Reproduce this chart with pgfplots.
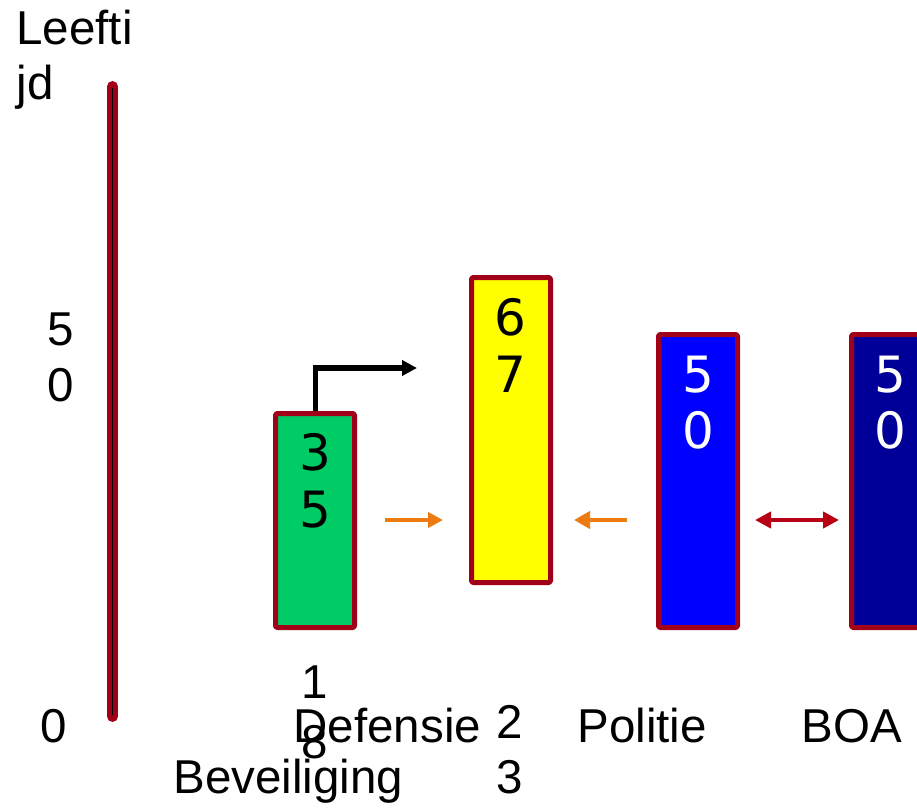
\documentclass[border=0pt]{standalone}
\usepackage{pgfplots}
\pgfplotsset{compat=1.18}
\usetikzlibrary{arrows.meta}
\usepackage{fontspec}
\setmainfont{Liberation Sans}
\newfontfamily\numfont{DejaVu Sans}
\definecolor{rim}{HTML}{A00018}
\definecolor{arrred}{HTML}{B80016}
\definecolor{arrorange}{HTML}{EC7C10}
\definecolor{bgreen}{HTML}{00CC66}
\definecolor{byellow}{HTML}{FFFF00}
\definecolor{bblue}{HTML}{0000FF}
\definecolor{bnavy}{HTML}{000099}
\newcommand\lab{\fontsize{47.5bp}{55bp}\selectfont}
\newcommand\num{\numfont\fontsize{50bp}{57bp}\selectfont}
\begin{document}
\begin{tikzpicture}
\begin{axis}[
    width=917bp, height=809bp, scale only axis,
    xmin=0, xmax=917, ymin=0, ymax=809,
    y dir=reverse,
    hide axis,
    clip=true,
    every node/.style={inner sep=0pt},
]
% frame for the bounding box
\addplot[draw=none] coordinates {(0,0) (917,809)};

% vertical age axis
\addplot[rim, line width=11bp, line cap=round] coordinates {(112.5,86.5) (112.5,716.5)};
\addplot[black, line width=1.5bp] coordinates {(112.5,88) (112.5,715)};

% floating bars (age ranges, drawn as on the slide)
\addplot[fill=bgreen, draw=rim, line width=5bp, line join=round, rounded corners=1.5bp]
  coordinates {(275.5,413.5) (354.5,413.5) (354.5,627.5) (275.5,627.5)} -- cycle;
\addplot[fill=byellow, draw=rim, line width=5bp, line join=round, rounded corners=1.5bp]
  coordinates {(471.5,277.5) (550.5,277.5) (550.5,582.5) (471.5,582.5)} -- cycle;
\addplot[fill=bblue, draw=rim, line width=5bp, line join=round, rounded corners=1.5bp]
  coordinates {(658.5,334.5) (737.5,334.5) (737.5,627.5) (658.5,627.5)} -- cycle;
\addplot[fill=bnavy, draw=rim, line width=5bp, line join=round, rounded corners=1.5bp]
  coordinates {(851.5,334.5) (930.5,334.5) (930.5,627.5) (851.5,627.5)} -- cycle;

% arrows
\addplot[black, line width=5.5bp, -{Triangle[length=15bp,width=15bp]}]
  coordinates {(315.5,411) (315.5,368) (417,368)};
\addplot[arrorange, line width=4bp, -{Triangle[length=15bp,width=15bp]}]
  coordinates {(385,520) (443,520)};
\addplot[arrorange, line width=4bp, -{Triangle[length=16bp,width=17bp]}]
  coordinates {(627,520) (574,520)};
\addplot[arrred, line width=4bp, {Triangle[length=16bp,width=16bp]}-{Triangle[length=16bp,width=16bp]}]
  coordinates {(755,520) (839,520)};

% axis labels
\node[anchor=base west, font=\lab] at (13,45) {Leefti};
\node[anchor=base west, font=\lab] at (13,100) {jd};
\node[anchor=base, font=\lab] at (61,345) {5};
\node[anchor=base, font=\lab] at (61,401) {0};
\node[anchor=base, font=\lab] at (54,742) {0};

% numbers inside bars
\node[anchor=base, font=\num] at (315,470) {3};
\node[anchor=base, font=\num] at (315,527) {5};
\node[anchor=base, font=\num] at (510,335) {6};
\node[anchor=base, font=\num] at (510,392) {7};
\node[anchor=base, font=\num, text=white] at (698,392) {5};
\node[anchor=base, font=\num, text=white] at (698,448) {0};
\node[anchor=base, font=\num, text=white] at (890,392) {5};
\node[anchor=base, font=\num, text=white] at (890,448) {0};

% category labels and lower ages
\node[anchor=base, font=\lab] at (315,698) {1};
\node[anchor=base, font=\lab] at (315,758) {8};
\node[anchor=base west, font=\lab] at (290,742) {Defensie};
\node[anchor=base, font=\lab] at (510,738) {2};
\node[anchor=base, font=\lab] at (510,793) {3};
\node[anchor=base west, font=\lab] at (170,793) {Beveiliging};
\node[anchor=base west, font=\lab] at (574,742) {Politie};
\node[anchor=base west, font=\lab] at (798,742) {BOA};
\end{axis}
\end{tikzpicture}
\end{document}
